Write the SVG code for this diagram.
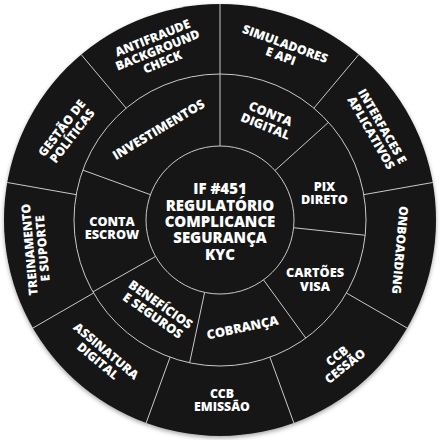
<svg xmlns="http://www.w3.org/2000/svg" width="440" height="440" viewBox="0 0 440 440">
<defs>
<filter id="sh" x="-10%" y="-10%" width="120%" height="120%">
<feDropShadow dx="0" dy="2" stdDeviation="2" flood-color="#000" flood-opacity="0.35"/>
</filter>
<style>
.t{font-family:"Open Sans","Liberation Sans",sans-serif;font-weight:800;fill:#fff;text-anchor:middle}
.o{font-size:12.3px}
.m{font-size:12.7px}
.c{font-size:15px}
.ln{stroke:#c9c9c9;stroke-width:1;fill:none}
</style>
</defs>
<rect width="440" height="440" fill="#fff"/>
<circle cx="220" cy="220" r="216" fill="#141414" filter="url(#sh)"/>
<g id="connectors" class="ln">
<circle cx="220" cy="220" r="146"/>
<circle cx="220" cy="220" r="74"/>
<line x1="220" y1="74" x2="220" y2="4"/>
<line x1="313.85" y1="108.16" x2="358.84" y2="54.54"/>
<line x1="363.78" y1="194.65" x2="432.72" y2="182.49"/>
<line x1="346.44" y1="293" x2="407.06" y2="328"/>
<line x1="269.93" y1="357.2" x2="293.87" y2="422.97"/>
<line x1="170.07" y1="357.2" x2="146.13" y2="422.97"/>
<line x1="93.56" y1="293" x2="32.94" y2="328"/>
<line x1="76.22" y1="194.65" x2="7.28" y2="182.49"/>
<line x1="126.15" y1="108.16" x2="81.16" y2="54.54"/>
<line x1="220" y1="146" x2="220" y2="74"/>
<line x1="274.99" y1="170.49" x2="328.5" y2="122.31"/>
<line x1="293.59" y1="227.73" x2="365.2" y2="235.26"/>
<line x1="263.5" y1="279.87" x2="305.82" y2="338.12"/>
<line x1="204.61" y1="292.38" x2="189.64" y2="362.81"/>
<line x1="155.59" y1="256.44" x2="92.92" y2="291.89"/>
<line x1="150.46" y1="194.69" x2="82.8" y2="170.07"/>
</g>
<g id="center">
<text class="t c" x="220" y="194">IF #451</text>
<text class="t c" x="220" y="210.5">REGULATÓRIO</text>
<text class="t c" x="220" y="227">COMPLICANCE</text>
<text class="t c" x="220" y="243.3">SEGURANÇA</text>
<text class="t c" x="220" y="259.5">KYC</text>
</g>
<g id="antifraude" transform="translate(157.5,50) rotate(-22)">
<text class="t o" x="0" y="-8.7">ANTIFRAUDE</text>
<text class="t o" x="0" y="4.3">BACKGROUND</text>
<text class="t o" x="0" y="17.3">CHECK</text>
</g>
<g id="simuladores" transform="translate(283,50) rotate(20)">
<text class="t o" x="0" y="-2.2">SIMULADORES</text>
<text class="t o" x="0" y="10.8">E API</text>
</g>
<g id="interfaces" transform="translate(376.75,129.5) rotate(60)">
<text class="t o" x="0" y="-2.2">INTERFACES E</text>
<text class="t o" x="0" y="10.8">APLICATIVOS</text>
</g>
<g id="onboarding" transform="translate(400,250) rotate(95)">
<text class="t o" x="0" y="4.3">ONBOARDING</text>
</g>
<g id="ccb-cessao" transform="translate(341,361) rotate(-38)">
<text class="t o" x="0" y="-2.2">CCB</text>
<text class="t o" x="0" y="10.8">CESSÃO</text>
</g>
<g id="ccb-emissao" transform="translate(222,400)">
<text class="t o" x="0" y="-2.2">CCB</text>
<text class="t o" x="0" y="10.8">EMISSÃO</text>
</g>
<g id="assinatura" transform="translate(102,356) rotate(40)">
<text class="t o" x="0" y="-2.2">ASSINATURA</text>
<text class="t o" x="0" y="10.8">DIGITAL</text>
</g>
<g id="treinamento" transform="translate(36,249) rotate(-95)">
<text class="t o" x="0" y="-2.2">TREINAMENTO</text>
<text class="t o" x="0" y="10.8">E SUPORTE</text>
</g>
<g id="gestao" transform="translate(67,132) rotate(-52)">
<text class="t o" x="0" y="-2.2">GESTÃO DE</text>
<text class="t o" x="0" y="10.8">POLÍTICAS</text>
</g>
<g id="investimentos" transform="translate(158.5,129.5) rotate(-31)">
<text class="t m" x="0" y="4.5">INVESTIMENTOS</text>
</g>
<g id="conta-digital" transform="translate(268,120) rotate(22)">
<text class="t m" x="0" y="-2.3">CONTA</text>
<text class="t m" x="0" y="11.2">DIGITAL</text>
</g>
<g id="pix">
<text class="t m" x="324.5" y="190.5">PIX</text>
<text class="t m" x="324.5" y="204">DIRETO</text>
</g>
<g id="cartoes">
<text class="t m" x="315" y="276.5">CARTÕES</text>
<text class="t m" x="315" y="290.5">VISA</text>
</g>
<g id="cobranca" transform="translate(242.5,327.5) rotate(-12)">
<text class="t m" x="0" y="4.5">COBRANÇA</text>
</g>
<g id="beneficios" transform="translate(156.7,310) rotate(35)">
<text class="t m" x="0" y="-2.3">BENEFÍCIOS</text>
<text class="t m" x="0" y="11.2">E SEGUROS</text>
</g>
<g id="conta-escrow">
<text class="t m" x="112" y="225.5">CONTA</text>
<text class="t m" x="112" y="238.5">ESCROW</text>
</g>
</svg>
